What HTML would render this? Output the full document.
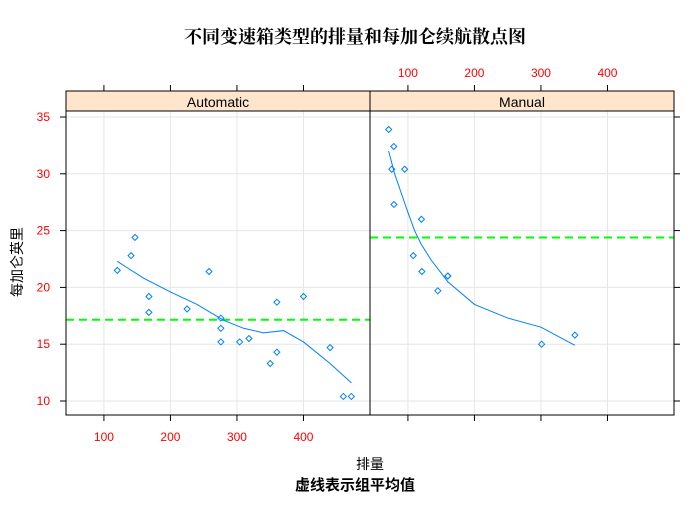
<!DOCTYPE html>
<html><head><meta charset="utf-8"><style>
body{margin:0;background:#fff;width:698px;height:506px;overflow:hidden}
text{font-family:"Liberation Sans","Noto Sans CJK SC",sans-serif}
</style></head><body>
<svg id="c" width="698" height="506">
<text x="355" y="43" text-anchor="middle" font-size="18" font-weight="bold" style="font-family:'Noto Serif CJK SC','Noto Sans CJK SC',serif">不同变速箱类型的排量和每加仑续航散点图</text>
<text x="370" y="469" text-anchor="middle" font-size="14">排量</text>
<text x="355" y="490" text-anchor="middle" font-size="15" font-weight="bold">虚线表示组平均值</text>
<text transform="translate(22,262) rotate(-90)" text-anchor="middle" font-size="14">每加仑英里</text>
</svg>
<script>
const panels=["Automatic","Manual"];
const autoDisp=[258,360,225,360,146.7,140.8,167.6,167.6,275.8,275.8,275.8,472,460,440,120.1,318,304,350,400];
const autoMpg=[21.4,18.7,18.1,14.3,24.4,22.8,19.2,17.8,16.4,17.3,15.2,10.4,10.4,14.7,21.5,15.5,15.2,13.3,19.2];
const manDisp=[160,160,108,78.7,75.7,71.1,79,120.3,95.1,351,145,301,121];
const manMpg=[21,21,22.8,32.4,30.4,33.9,27.3,26,30.4,15.8,19.7,15,21.4];
const autoSmoothX=[120,160,200,240,280,310,340,370,400,440,472];
const autoSmoothY=[22.3,20.8,19.6,18.5,17.1,16.4,16.0,16.2,15.2,13.3,11.6];
const manSmoothX=[71,80,90,100,110,120,135,160,200,250,300,351];
const manSmoothY=[32,30,28.3,26.6,25,23.8,22.4,20.5,18.5,17.3,16.5,14.9];
const autoMean=17.15, manMean=24.39;
const xTicks=[100,200,300,400];
const yTicks=[10,15,20,25,30,35];
const svg=document.getElementById('c');
const NS='http://www.w3.org/2000/svg';
const PW=304, X0=[66,370], TOP=111, BOT=415, STRIPTOP=91;
const xs=(v,p)=>X0[p]+(v-43)/(500-43)*PW;
const ys=v=>401-(v-10)*11.36;
function mk(t,a){const e=document.createElementNS(NS,t);for(const k in a)e.setAttribute(k,a[k]);svg.appendChild(e);return e;}
for(let p=0;p<2;p++){
 xTicks.forEach(t=>{const l=mk('line',{x1:xs(t,p),x2:xs(t,p),y1:TOP,y2:BOT,stroke:'#e6e6e6'});
 });
 yTicks.forEach(t=>{const l=mk('line',{x1:X0[p],x2:X0[p]+PW,y1:ys(t),y2:ys(t),stroke:'#e6e6e6'});
 });
}
const data=[[autoDisp,autoMpg,autoSmoothX,autoSmoothY,autoMean],[manDisp,manMpg,manSmoothX,manSmoothY,manMean]];
for(let p=0;p<2;p++){
 const [dx,dy,sx,sy,m]=data[p];
 const ml=mk('line',{x1:X0[p],x2:X0[p]+PW,y1:ys(m),y2:ys(m),stroke:'#00ff00','stroke-width':2,'stroke-dasharray':'8,5'});
 
 const sm=mk('polyline',{points:sx.map((v,i)=>xs(v,p)+','+ys(sy[i])).join(' '),fill:'none',stroke:'#0080ff','stroke-width':1});
 
 dx.forEach((v,i)=>{const cx=xs(v,p),cy=ys(dy[i]);
 const c=mk('polygon',{points:`${cx},${cy-3} ${cx+3},${cy} ${cx},${cy+3} ${cx-3},${cy}`,fill:'none',stroke:'#0080ff','stroke-width':1});
 });
 const st=mk('rect',{x:X0[p],y:STRIPTOP,width:PW,height:TOP-STRIPTOP,fill:'#ffe5cc',stroke:'#000'});
 
 const tx=mk('text',{x:X0[p]+PW/2,y:107,'text-anchor':'middle','font-size':14});tx.textContent=panels[p];
 
 const fr=mk('rect',{x:X0[p],y:TOP,width:PW,height:BOT-TOP,fill:'none',stroke:'#000'});
 
 xTicks.forEach(t=>{const x=xs(t,p);
  const a=mk('line',{x1:x,x2:x,y1:BOT,y2:BOT+6,stroke:'#000'});
  const b=mk('line',{x1:x,x2:x,y1:STRIPTOP,y2:STRIPTOP-6,stroke:'#000'});
  const l=mk('text',{x:x,y:p==0?441:77,'text-anchor':'middle','font-size':12,fill:'#ff0000'});l.textContent=t;
  });
}
yTicks.forEach(t=>{const y=ys(t);
 const a=mk('line',{x1:60,x2:66,y1:y,y2:y,stroke:'#000'});
 const b=mk('line',{x1:674,x2:680,y1:y,y2:y,stroke:'#000'});
 const l=mk('text',{x:50,y:y+4,'text-anchor':'end','font-size':12,fill:'#ff0000'});l.textContent=t;
 });
</script>
</body></html>
